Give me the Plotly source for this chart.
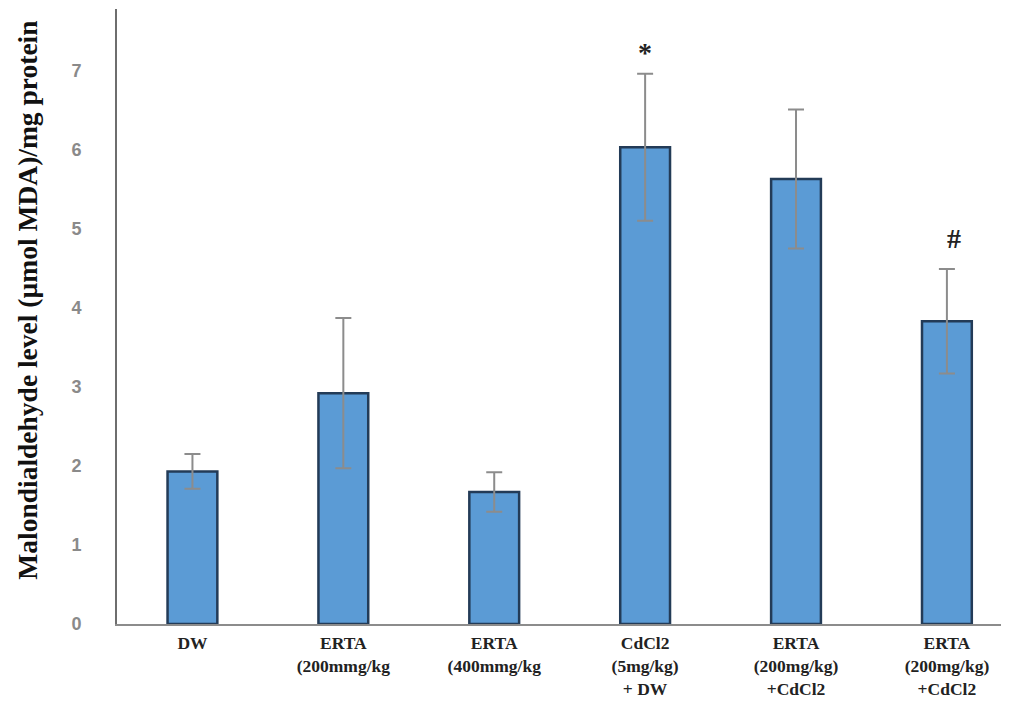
import plotly.graph_objects as go

categories = ["DW", "ERTA<br>(200mmg/kg", "ERTA<br>(400mmg/kg", "CdCl2<br>(5mg/kg)<br>+ DW",
              "ERTA<br>(200mg/kg)<br>+CdCl2", "ERTA<br>(200mg/kg)<br>+CdCl2"]
means = [1.93, 2.92, 1.67, 6.03, 5.63, 3.83]
errors = [0.22, 0.95, 0.25, 0.93, 0.88, 0.66]
marks = ["", "", "", "*", "", "#"]
y_ticks = [0, 1, 2, 3, 4, 5, 6, 7]

xs = list(range(len(categories)))

fig = go.Figure()
fig.add_trace(go.Bar(
    x=xs, y=means, width=0.33,
    marker=dict(color="#5B9BD5", line=dict(color="#233B57", width=2.5)),
    error_y=dict(type="data", array=errors, visible=True, color="#8C8C8C", thickness=2, width=8),
))

for i, (m, e, s) in enumerate(zip(means, errors, marks)):
    if s:
        fig.add_annotation(x=i + (0.05 if s == "#" else 0), y=m + e, text="<b>" + s + "</b>", showarrow=False,
                           yanchor="bottom", yshift=(4 if s == "*" else 13),
                           font=dict(family="Liberation Serif", size=28, color="#222222"))

fig.add_annotation(xref="paper", yref="paper", x=-0.1005, y=0.527,
                   text="<b>Malondialdehyde level (µmol MDA)/mg protein</b>",
                   textangle=-90, showarrow=False, xanchor="center", yanchor="middle",
                   borderpad=0,
                   font=dict(family="Liberation Serif", size=27.5, color="#111111"))

# the page body keeps its default 8px margin; the figure fills the rest of the window
fig.update_layout(
    width=1001, height=694,
    margin=dict(l=109, r=4, t=1, b=78),
    plot_bgcolor="white", paper_bgcolor="white",
    showlegend=False,
)
fig.update_xaxes(
    range=[-0.5, 5.385], tickmode="array", tickvals=xs, ticktext=categories,
    showline=True, linecolor="#8C8C8C", linewidth=2, showgrid=False, ticks="",
    ticklabelstandoff=2, automargin=False,
    tickfont=dict(family="Liberation Serif", size=17.5, color="#222222", weight="bold"),
)
fig.update_yaxes(
    range=[0, 7.78], tickmode="array", tickvals=y_ticks,
    showline=True, linecolor="#6E6E6E", linewidth=2, showgrid=False, ticks="",
    ticklabelstandoff=30, zeroline=False, automargin=False,
    tickfont=dict(family="Liberation Sans", size=18, color="#8A8A8A", weight="bold"),
)

fig.write_html("out.html")
